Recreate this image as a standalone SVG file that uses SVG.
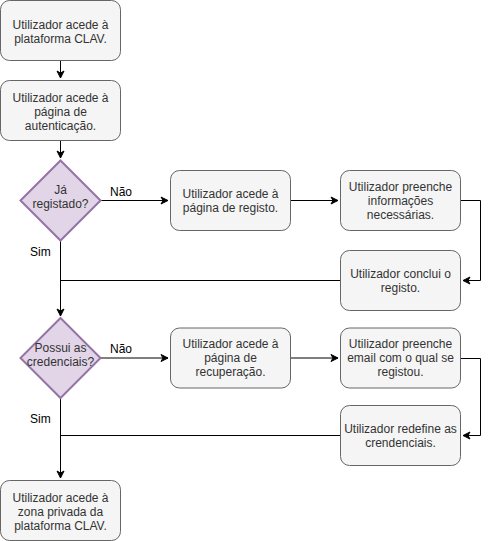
<svg xmlns="http://www.w3.org/2000/svg" width="489" height="541" viewBox="0 0 489 541">
<defs>
<marker id="arr" markerWidth="10" markerHeight="10" refX="8" refY="5" orient="auto" markerUnits="userSpaceOnUse">
<path d="M1,1.5 L8,5 L1,8.5 L3,5 Z" fill="#000" stroke="#000" stroke-width="1"/>
</marker>
<style>
.box{fill:#f5f5f5;stroke:#666666;stroke-width:1}
.dia{fill:#e1d5e7;stroke:#9673a6;stroke-width:2}
.t{font-family:"Liberation Sans",Arial,sans-serif;font-size:12px;fill:#333333;text-anchor:middle}
.l{font-family:"Liberation Sans",Arial,sans-serif;font-size:12px;fill:#000000}
.c{fill:none;stroke:#000;stroke-width:1}
</style>
</defs>
<rect width="489" height="541" fill="#ffffff"/>
<g id="connectors">
<path class="c" d="M60.5,60.5 V78" marker-end="url(#arr)"/>
<path class="c" d="M60.5,140.5 V158" marker-end="url(#arr)"/>
<path class="c" d="M100.5,200.5 H168" marker-end="url(#arr)"/>
<path class="c" d="M290.5,200.5 H338" marker-end="url(#arr)"/>
<path class="c" d="M460.5,200.5 H480.5 V280.5 H463" marker-end="url(#arr)"/>
<path class="c" d="M340.5,280.5 H60.5"/>
<path class="c" d="M60.5,240.5 V316" marker-end="url(#arr)"/>
<path class="c" d="M100.5,358 H168" marker-end="url(#arr)"/>
<path class="c" d="M290.5,358 H338" marker-end="url(#arr)"/>
<path class="c" d="M460.5,358.5 H480.5 V435.5 H463" marker-end="url(#arr)"/>
<path class="c" d="M340.5,435.5 H60.5"/>
<path class="c" d="M60.5,398 V478" marker-end="url(#arr)"/>
<text class="l" x="110" y="196">Não</text>
<text class="l" x="30" y="256">Sim</text>
<text class="l" x="110" y="353">Não</text>
<text class="l" x="30" y="423">Sim</text>
</g>
<g id="n1">
<rect class="box" x="0.5" y="0.5" width="120" height="60" rx="9"/>
<text class="t" x="60.5" y="28.5">Utilizador acede à</text>
<text class="t" x="60.5" y="42.5">plataforma CLAV.</text>
</g>
<g id="n2">
<rect class="box" x="0.5" y="80.5" width="120" height="60" rx="9"/>
<text class="t" x="60.5" y="101.5">Utilizador acede à</text>
<text class="t" x="60.5" y="115.5">página de</text>
<text class="t" x="60.5" y="129.5">autenticação.</text>
</g>
<g id="d1">
<path class="dia" d="M60.5,160.5 L100.5,200.5 L60.5,240.5 L20.5,200.5 Z"/>
<text class="t" x="60.5" y="194">Já</text>
<text class="t" x="60.5" y="208">registado?</text>
</g>
<g id="n3">
<rect class="box" x="170.5" y="170.5" width="120" height="60" rx="9"/>
<text class="t" x="230.5" y="197.5">Utilizador acede à</text>
<text class="t" x="230.5" y="211.5">página de registo.</text>
</g>
<g id="n4">
<rect class="box" x="340.5" y="170.5" width="120" height="60" rx="9"/>
<text class="t" x="400.5" y="190.5">Utilizador preenche</text>
<text class="t" x="400.5" y="204.5">informações</text>
<text class="t" x="400.5" y="218.5">necessárias.</text>
</g>
<g id="n5">
<rect class="box" x="340.5" y="250.5" width="120" height="60" rx="9"/>
<text class="t" x="400.5" y="277.5">Utilizador conclui o</text>
<text class="t" x="400.5" y="291.5">registo.</text>
</g>
<g id="d2">
<path class="dia" d="M60.5,318 L100.5,358 L60.5,398 L20.5,358 Z"/>
<text class="t" x="60.5" y="352">Possui as</text>
<text class="t" x="60.5" y="366">credenciais?</text>
</g>
<g id="n6">
<rect class="box" x="170.5" y="328" width="120" height="60" rx="9"/>
<text class="t" x="230.5" y="348">Utilizador acede à</text>
<text class="t" x="230.5" y="362">página de</text>
<text class="t" x="230.5" y="376">recuperação.</text>
</g>
<g id="n7">
<rect class="box" x="340.5" y="328" width="120" height="60" rx="9"/>
<text class="t" x="400.5" y="348">Utilizador preenche</text>
<text class="t" x="400.5" y="362">email com o qual se</text>
<text class="t" x="400.5" y="376">registou.</text>
</g>
<g id="n8">
<rect class="box" x="340.5" y="405.5" width="120" height="60" rx="9"/>
<text class="t" x="400.5" y="432.5">Utilizador redefine as</text>
<text class="t" x="400.5" y="446.5">crendenciais.</text>
</g>
<g id="n9">
<rect class="box" x="0.5" y="480.5" width="120" height="60" rx="9"/>
<text class="t" x="60.5" y="501.5">Utilizador acede à</text>
<text class="t" x="60.5" y="515.5">zona privada da</text>
<text class="t" x="60.5" y="529.5">plataforma CLAV.</text>
</g>
</svg>
